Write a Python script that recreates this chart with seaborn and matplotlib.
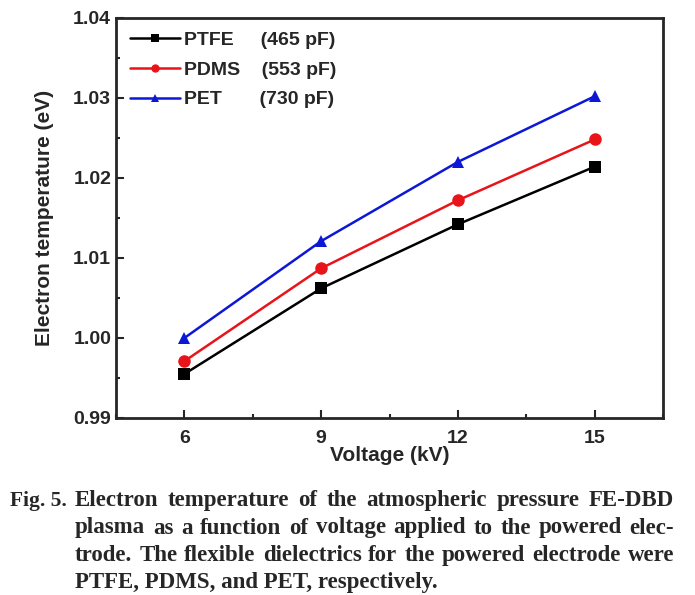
import pandas as pd
import matplotlib
matplotlib.use("Agg")
import matplotlib.pyplot as plt
import seaborn as sns
from matplotlib.ticker import MultipleLocator, FormatStrFormatter

# valores
voltage = [6, 9, 12, 15]
ptfe = [0.9955, 1.0062, 1.0142, 1.0214]
pdms = [0.9971, 1.0087, 1.0172, 1.0248]
pet = [1.0000, 1.0121, 1.0220, 1.0302]
series_names = ["PTFE     (465 pF)", "PDMS    (553 pF)", "PET       (730 pF)"]

df = pd.DataFrame({
    "voltage": voltage * 3,
    "te": ptfe + pdms + pet,
    "material": [series_names[0]] * 4 + [series_names[1]] * 4 + [series_names[2]] * 4,
})

sns.set_style("ticks")
plt.rcParams["font.family"] = ["Liberation Sans", "DejaVu Sans"]
plt.rcParams["font.weight"] = "bold"

fig = plt.figure(figsize=(6.95, 5.95), dpi=100)
ax = fig.add_axes([0.167, 0.2975, 0.787, 0.6725])

sns.lineplot(data=df, x="voltage", y="te", hue="material", style="material",
             palette=["black", "#e8141a", "#0c18d6"], markers=["s", "o", "^"],
             dashes=False, linewidth=1.8, markersize=9, markeredgewidth=0, ax=ax)

ax.set_xlim(4.5, 16.5)
ax.set_ylim(0.99, 1.04)
ax.set_xticks(voltage)
ax.xaxis.set_minor_locator(MultipleLocator(1.5))
ax.yaxis.set_major_locator(MultipleLocator(0.01))
ax.yaxis.set_minor_locator(MultipleLocator(0.005))
ax.yaxis.set_major_formatter(FormatStrFormatter("%.2f"))
ax.tick_params(which="both", direction="in", width=1.5, labelsize=14)
ax.tick_params(which="major", length=6)
ax.tick_params(which="minor", length=3)
ax.tick_params(axis="x", which="major", pad=9)
for s in ax.spines.values():
    s.set_linewidth(2)

ax.set_xlabel("Voltage (kV)", fontsize=15, fontweight="bold", labelpad=-1)
ax.set_ylabel("Electron temperature (eV)", fontsize=15, fontweight="bold", labelpad=14)

leg = ax.legend(loc="upper left", frameon=False, fontsize=14, handlelength=2.6,
                borderaxespad=0.3, labelspacing=0.62, handletextpad=0.2,
                borderpad=0.4)
for t in leg.get_texts():
    t.set_fontweight("bold")
for h in leg.legend_handles:
    h.set_markersize(6)

# pie de figura (justificado a mano)
cap = dict(family=["Liberation Serif", "DejaVu Serif"], fontsize=16.5, fontweight="bold")
fig.text(10 / 695, 1 - 506 / 595, "Fig. 5.", va="baseline",
         **{**cap, "fontsize": 15.5})
lines = [
    "Electron temperature of the atmospheric pressure FE-DBD",
    "plasma as a function of voltage applied to the powered elec-",
    "trode. The flexible dielectrics for the powered electrode were",
    "PTFE, PDMS, and PET, respectively.",
]
ys = [506, 533.5, 561, 588]
x0, x1 = 75 / 695, 674 / 695
fig.canvas.draw()
rend = fig.canvas.get_renderer()
for i, (line, yy) in enumerate(zip(lines, ys)):
    y = 1 - yy / 595
    if i == len(lines) - 1:
        fig.text(x0, y, line, va="baseline", **cap)
        continue
    words = line.split(" ")
    widths = []
    for w in words:
        t = fig.text(0, 0, w, **cap)
        widths.append(t.get_window_extent(rend).width / fig.bbox.width)
        t.remove()
    gap = (x1 - x0 - sum(widths)) / (len(words) - 1)
    x = x0
    for w, wd in zip(words, widths):
        fig.text(x, y, w, va="baseline", **cap)
        x += wd + gap

fig.savefig("out.png", dpi=100)
